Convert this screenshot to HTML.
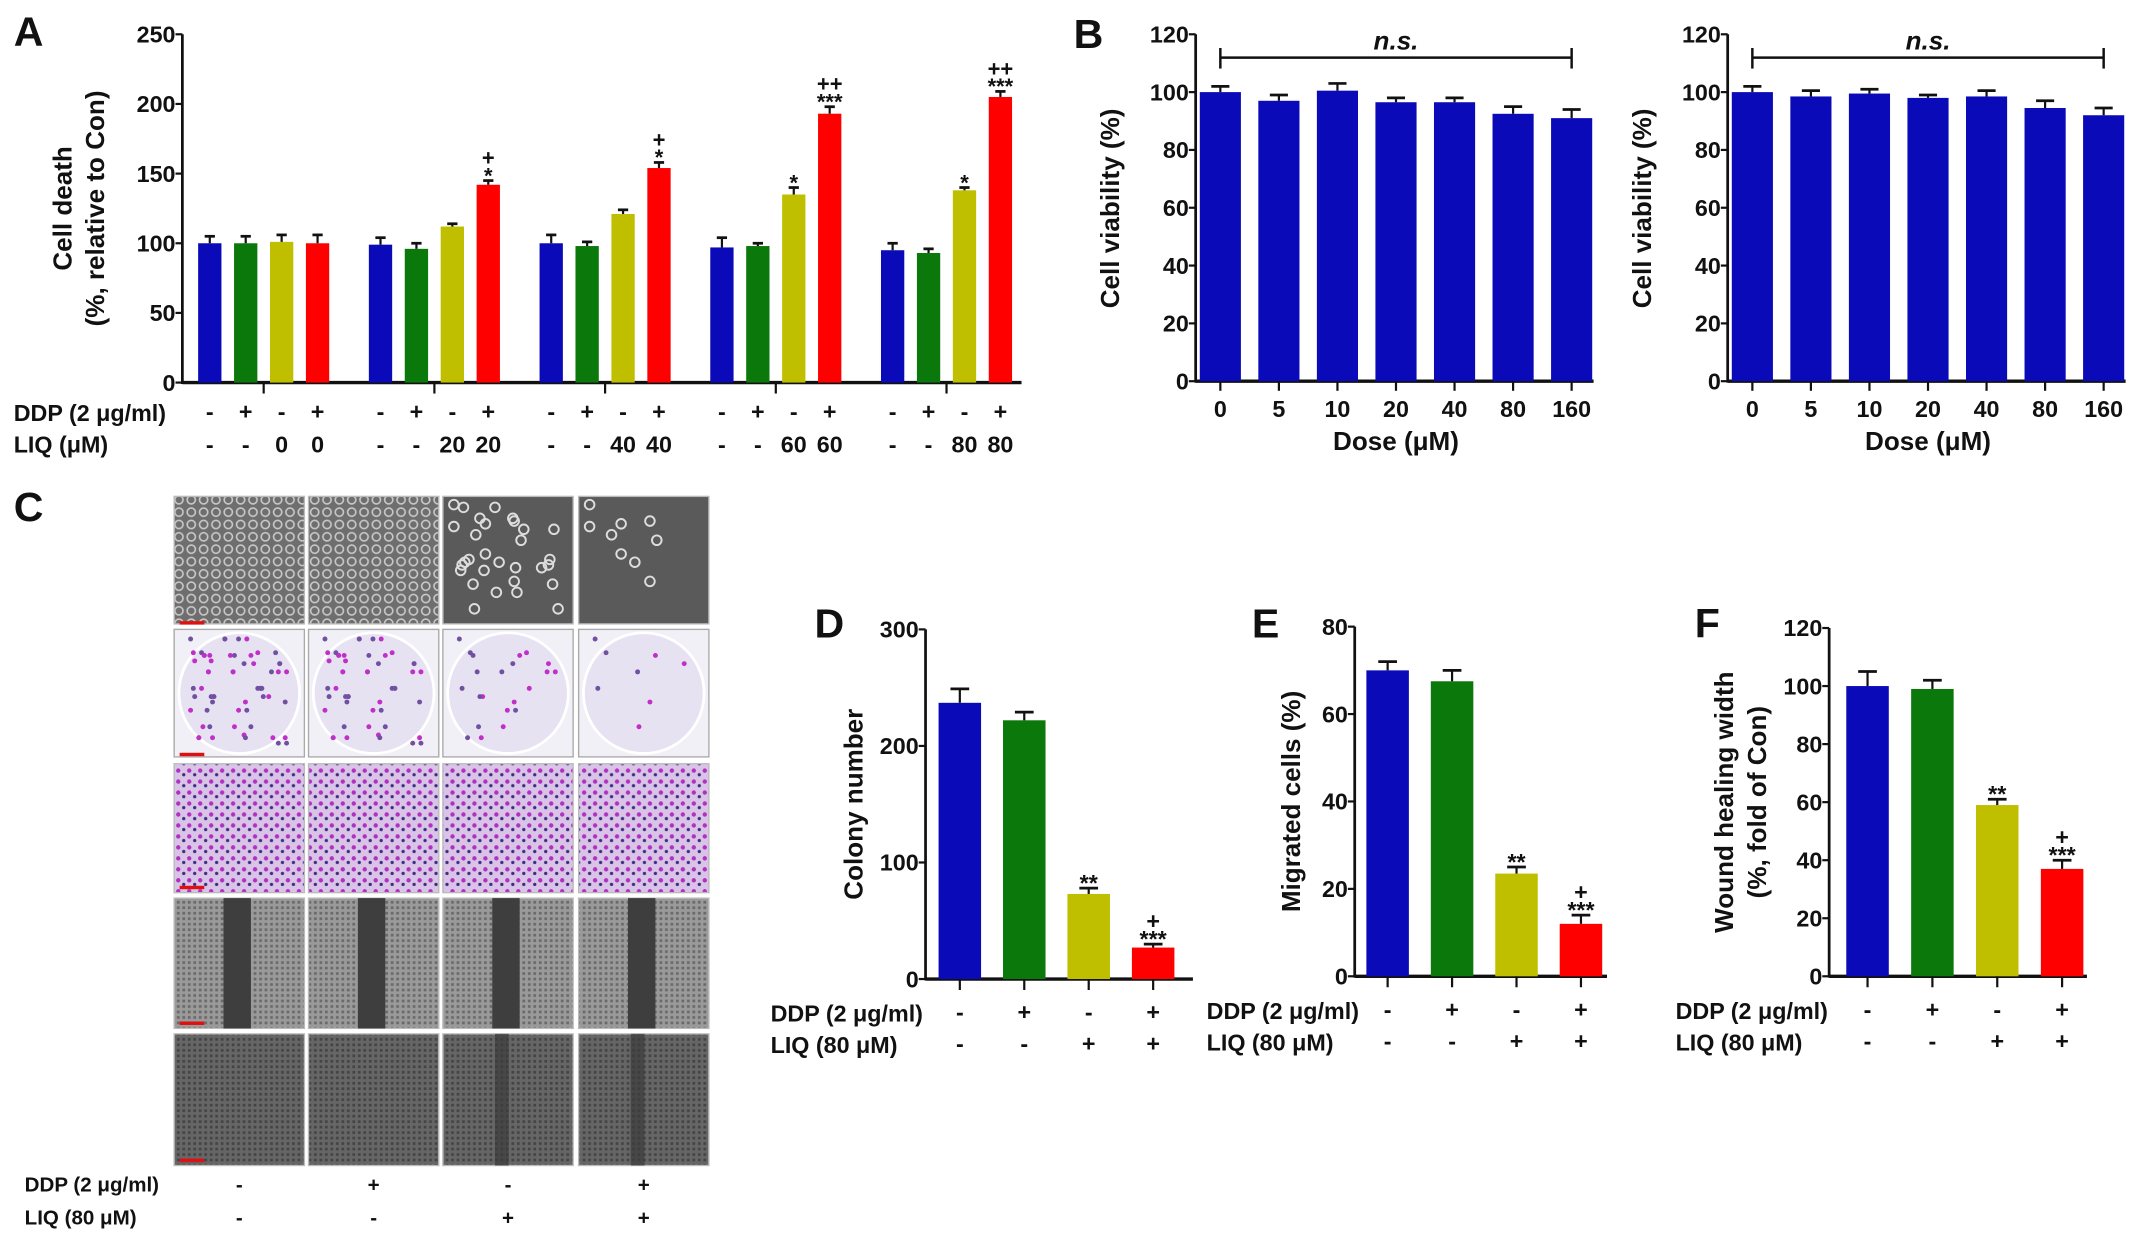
<!DOCTYPE html>
<html><head><meta charset="utf-8"><style>
html,body{margin:0;padding:0;background:#fff}
svg{display:block}
text{font-family:"Liberation Sans",sans-serif;font-weight:bold;fill:#111}
</style></head><body>
<svg id="fig" width="2150" height="1243" viewBox="0 0 1568 906.5" xmlns="http://www.w3.org/2000/svg">
<defs>
<pattern id="cells" width="9" height="9" patternUnits="userSpaceOnUse"><rect width="9" height="9" fill="#6e6e6e"/><circle cx="4.5" cy="4.5" r="3" fill="none" stroke="#c8c8c8" stroke-width="1.2"/></pattern>
<pattern id="wound" width="4" height="4" patternUnits="userSpaceOnUse"><rect width="4" height="4" fill="#9a9a9a"/><rect x="1" y="1" width="2" height="2" fill="#6a6a6a"/></pattern>
<pattern id="wound2" width="4" height="4" patternUnits="userSpaceOnUse"><rect width="4" height="4" fill="#666"/><rect x="1" y="1" width="2" height="2" fill="#444"/></pattern>
<pattern id="mig" width="8" height="8" patternUnits="userSpaceOnUse"><rect width="8" height="8" fill="#d9c4e8"/><circle cx="2" cy="2" r="1.6" fill="#b030c0"/><circle cx="6" cy="5" r="1.2" fill="#3a2a80"/></pattern>
</defs>
<g id="root"></g>
</svg>
<script>
const NS="http://www.w3.org/2000/svg";
const root=document.getElementById('root');
function el(tag,attrs,parent){const e=document.createElementNS(NS,tag);for(const k in attrs)e.setAttribute(k,attrs[k]);(parent||root).appendChild(e);return e;}
function txt(x,y,s,size,anchor,parent,extra){const t=el('text',Object.assign({x:x,y:y,'font-size':size,'text-anchor':anchor||'middle'},extra||{}),parent);t.textContent=s;return t;}
const COL=['#0a0ab8','#0a780a','#bfbf00','#ff0000'];

// ---- Panel A data ----
const aGroups=['0','20','40','60','80'];
const aVals=[[100,100,101,100],[99,96,112,142],[100,98,121,154],[97,98,135,193],[95,93,138,205]];
const aErr=[[5,5,5,6],[5,4,2,3],[6,3,3,4],[7,2,5,5],[5,3,2,4]];
const aMarks=[['','','',''],['','','','+\n*'],['','','','+\n*'],['','','*','++\n***'],['','','*','++\n***']];
const aTicks=[0,50,100,150,200,250];
// ---- Panel B data ----
const bDoses=['0','5','10','20','40','80','160'];
const b1Vals=[100,97,100.5,96.5,96.5,92.5,91];
const b1Err=[2,2,2.5,1.5,1.5,2.5,3];
const b2Vals=[100,98.5,99.5,98,98.5,94.5,92];
const b2Err=[2,2,1.5,1,2,2.5,2.5];
const bTicks=[0,20,40,60,80,100,120];
// ---- Panels D,E,F ----
const dVals=[237,222,73,27]; const dErr=[12,7,5,3]; const dTicks=[0,100,200,300];
const eVals=[70,67.5,23.5,12]; const eErr=[2,2.5,1.5,2]; const eTicks=[0,20,40,60,80];
const fVals=[100,99,59,37]; const fErr=[5,3,2,3]; const fTicks=[0,20,40,60,80,100,120];
const defMarks=['','','**','+\n***'];
const ddpSigns=['-','+','-','+']; const liqSigns=['-','-','+','+'];

function axisY(g,x,y0,yTop,ticks,max,fs){
  const sc=v=>y0-(v/max)*(y0-yTop);
  el('line',{x1:x,y1:y0+1,x2:x,y2:yTop,stroke:'#111','stroke-width':2},g);
  ticks.forEach(t=>{const y=sc(t);el('line',{x1:x-5,y1:y,x2:x,y2:y,stroke:'#111','stroke-width':1.6},g);
    txt(x-5,y+6,String(t),fs||17,'end',g,{'font-family':'Liberation Sans Narrow, Liberation Sans, sans-serif'});});
  return sc;
}
function bar(g,cx,w,v,e,sc,color,name){
  const y0=sc(0),y=sc(v);
  const r=el('rect',{x:cx-w/2,y:y,width:w,height:y0-y,fill:color},g);
  
  
  const ye=sc(v+e);
  el('line',{x1:cx,y1:y,x2:cx,y2:ye,stroke:'#111','stroke-width':1.6},g);
  el('line',{x1:cx-w*0.22,y1:ye,x2:cx+w*0.22,y2:ye,stroke:'#111','stroke-width':2},g);
  return ye;
}
function marks(g,cx,ye,s,fs){
  if(!s)return; const lines=s.split('\n'); let y=ye-2;
  for(let i=lines.length-1;i>=0;i--){
    const star=lines[i].includes('*');
    txt(cx,star?y+4:y,lines[i],fs||17,'middle',g);
    y-=star?9:13;
  }
}
function panelLabel(x,y,s){const t=txt(x,y,s,30,'start');}

// ===== Panel A =====
(function(){
  const g=el('g',{});
  panelLabel(10,33,'A');
  const ax=133,y0=279,yT=25;
  const sc=axisY(g,ax,y0,yT,aTicks,250,17);
  el('line',{x1:ax,y1:y0,x2:745,y2:y0,stroke:'#111','stroke-width':2.5},g);
  const start=153,gstep=124.5,bstep=26.2,w=17;
  const ddpLab=txt(10,307,'DDP (2 μg/ml)',17,'start',g);
  const liqLab=txt(10,330,'LIQ (μM)',17,'start',g);
  aGroups.forEach((gl,gi)=>{
    const gc=start+gi*gstep+1.5*bstep;
    el('line',{x1:gc,y1:y0,x2:gc,y2:y0+8,stroke:'#111','stroke-width':1.6},g);
    for(let b=0;b<4;b++){
      const cx=start+gi*gstep+b*bstep;
      const ye=bar(g,cx,w,aVals[gi][b],aErr[gi][b],sc,COL[b],'bar-a-'+gi+'-'+b);
      marks(g,cx,ye,aMarks[gi][b],16);
      txt(cx,306,ddpSigns[b],17,'middle',g);
      txt(cx,330,b<2?'-':gl,17,'middle',g);
    }
  });
  const yl=el('g',{transform:'translate(52,152) rotate(-90)'},g);
  txt(0,0,'Cell death',19,'middle',yl);txt(0,24,'(%, relative to Con)',19,'middle',yl);
})();

// ===== Panel B =====
function panelB(ax,vals,errs,name,ylx){
  const g=el('g',{});
  const y0=278,yT=25;
  const sc=axisY(g,ax,y0,yT,bTicks,120,17);
  const step=42.7,first=ax+18,w=30;
  el('line',{x1:ax,y1:y0,x2:first+6*step+16,y2:y0,stroke:'#111','stroke-width':2.5},g);
  bDoses.forEach((d,i)=>{const cx=first+i*step;bar(g,cx,w,vals[i],errs[i],sc,COL[0],'bar-b-'+d);
    el('line',{x1:cx,y1:y0,x2:cx,y2:y0+7,stroke:'#111','stroke-width':1.6},g);
    txt(cx,304,d,17,'middle',g);});
  el('line',{x1:first,y1:42,x2:first+6*step,y2:42,stroke:'#111','stroke-width':1.8},g);
  el('line',{x1:first,y1:35,x2:first,y2:50,stroke:'#111','stroke-width':1.8},g);
  el('line',{x1:first+6*step,y1:35,x2:first+6*step,y2:50,stroke:'#111','stroke-width':1.8},g);
  txt(first+3*step,36,'n.s.',19,'middle',g,{'font-style':'italic'});
  txt(first+3*step,328,'Dose (μM)',19,'middle',g);
  const yl=el('g',{transform:'translate('+ylx+',152) rotate(-90)'},g);
  txt(0,0,'Cell viability (%)',19,'middle',yl);
}
panelLabel(783,35,'B');
panelB(872,b1Vals,b1Err,'panel-b-left-chart',816);
panelB(1260,b2Vals,b2Err,'panel-b-right-chart',1204);

// ===== Panel C images =====
(function(){
  const g=el('g',{});
  panelLabel(10,380,'C');
  const cols=[127,225,323,422],cw=95;
  cols.forEach((x,ci)=>{
    el('rect',{x:x,y:362,width:cw,height:93,fill:ci<2?'url(#cells)':'#5a5a5a',stroke:'#bbb'},g);
    if(ci>=2){const n=ci==2?30:9;for(let k=0;k<n;k++){el('circle',{cx:x+8+((k*37+k*k*7)%79),cy:368+((k*53+k*k*3)%82),r:3.5,fill:'none',stroke:'#ddd','stroke-width':1.4},g);}}
    el('rect',{x:x,y:459,width:cw,height:93,fill:'#f2f0f7',stroke:'#aaa'},g);
    el('circle',{cx:x+cw/2,cy:505.5,r:44,fill:'#e6e2f2',stroke:'#fff','stroke-width':2},g);
    const nd=[60,50,22,8][ci];
    for(let k=0;k<nd;k++){el('circle',{cx:x+12+((k*29+k*k*11)%71),cy:466+((k*41+k*k*5)%78),r:1.8,fill:k%2?'#c030c8':'#7050a0'},g);}
    el('rect',{x:x,y:557,width:cw,height:94,fill:'url(#mig)',stroke:'#bbb'},g);
    el('rect',{x:x,y:655,width:cw,height:95,fill:'url(#wound)',stroke:'#bbb'},g);
    el('rect',{x:x+36,y:655,width:20,height:95,fill:'#3e3e3e'},g);
    el('rect',{x:x,y:754,width:cw,height:96,fill:'url(#wound2)',stroke:'#bbb'},g);
    if(ci>=2)el('rect',{x:x+38,y:754,width:10,height:96,fill:'#3a3a3a',opacity:0.7},g);
    txt(x+cw/2,869,ddpSigns[ci],15,'middle',g);
    txt(x+cw/2,893,liqSigns[ci],15,'middle',g);
  });
  [[131,453],[131,549],[131,646],[131,745],[131,845]].forEach(p=>el('rect',{x:p[0],y:p[1],width:18,height:2.5,fill:'#e01010'},g));
  txt(18,869,'DDP (2 μg/ml)',15,'start',g);
  txt(18,893,'LIQ (80 μM)',15,'start',g);
})();

// ===== D/E/F =====
function panelSmall(o){
  const g=el('g',{});
  panelLabel(o.lx,o.ly,o.label);
  const sc=axisY(g,o.ax,o.y0,o.yT,o.ticks,o.max,17);
  el('line',{x1:o.ax,y1:o.y0,x2:o.xend,y2:o.y0,stroke:'#111','stroke-width':2.5},g);
  o.vals.forEach((v,i)=>{const cx=o.centers0+i*o.step;
    const ye=bar(g,cx,31,v,o.err[i],sc,COL[i],'bar-'+o.label.toLowerCase()+'-'+i);
    marks(g,cx,ye,defMarks[i],17);
    el('line',{x1:cx,y1:o.y0,x2:cx,y2:o.y0+8,stroke:'#111','stroke-width':1.6},g);
    txt(cx,o.y0+30,ddpSigns[i],17,'middle',g);txt(cx,o.y0+53,liqSigns[i],17,'middle',g);});
  txt(o.tx,o.y0+31,'DDP (2 μg/ml)',17,'start',g);
  txt(o.tx,o.y0+54,'LIQ (80 μM)',17,'start',g);
  const yl=el('g',{transform:'translate('+o.ylx+','+((o.y0+o.yT)/2)+') rotate(-90)'},g);
  o.ylab.forEach((s,i)=>txt(0,i*24,s,19,'middle',yl));
}
panelSmall({name:'panel-d-colony-chart',label:'D',lx:594,ly:465,ax:675,y0:714,yT:459,max:300,ticks:dTicks,xend:870,centers0:700,step:47,vals:dVals,err:dErr,tx:562,ylx:629,ylab:['Colony number']});
panelSmall({name:'panel-e-migration-chart',label:'E',lx:913,ly:465,ax:988,y0:712,yT:457,max:80,ticks:eTicks,xend:1172,centers0:1012,step:47,vals:eVals,err:eErr,tx:880,ylx:948,ylab:['Migrated cells (%)']});
panelSmall({name:'panel-f-wound-chart',label:'F',lx:1236,ly:465,ax:1334,y0:712,yT:458,max:120,ticks:fTicks,xend:1522,centers0:1362,step:47.3,vals:fVals,err:fErr,tx:1222,ylx:1264,ylab:['Wound healing width','(%, fold of Con)']});
</script>
</body></html>
